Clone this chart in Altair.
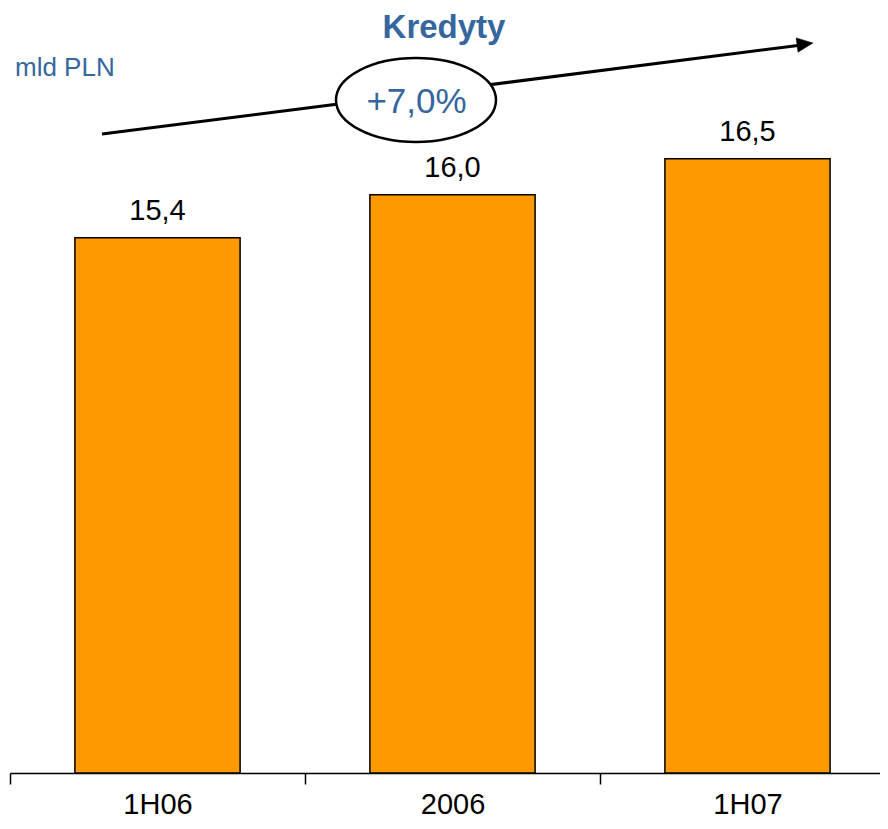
import altair as alt
import pandas as pd

# ---- data ----
categories = ["1H06", "2006", "1H07"]
values = [15.4, 16.0, 16.5]
value_labels = ["15,4", "16,0", "16,5"]

title_text = "Kredyty"
unit_text = "mld PLN"
growth_text = "+7,0%"

Y_MIN, Y_MAX = 7.95, 18.6
BLUE = "#35679E"
FONT = "Liberation Sans"
STEP = 295

df = pd.DataFrame({"cat": categories, "val": values, "lab": value_labels})
one = pd.DataFrame({"k": [0]})

x_enc = alt.X(
    "cat:N", sort=categories, title=None,
    scale=alt.Scale(range=[0, 885], paddingInner=0.44, paddingOuter=0.22),
    axis=alt.Axis(
        domainColor="#000000", domainWidth=1.5,
        tickColor="#000000", tickWidth=1.5, tickSize=11,
        tickOffset=-STEP / 2, labelOffset=STEP / 2,
        labelFont=FONT, labelFontSize=29, labelColor="#000000",
        labelPadding=29, labelBaseline="alphabetic", labelAngle=0,
        grid=False,
    ),
)
y_enc = alt.Y("val:Q", scale=alt.Scale(domain=[Y_MIN, Y_MAX], nice=False, zero=False), axis=None)

bars = alt.Chart(df).mark_bar(color="#FF9900", stroke="#000000", strokeWidth=1.5).encode(
    x=x_enc, y=y_enc, y2=alt.datum(Y_MIN)
)

labels = alt.Chart(df).mark_text(
    font=FONT, fontSize=29, color="#000000", baseline="alphabetic", dy=-18
).encode(x=alt.X("cat:N", sort=categories), y=alt.Y("val:Q"), text="lab:N")

arrow_line = alt.Chart(one).mark_rule(color="#000000", strokeWidth=3).encode(
    x=alt.value(92), y=alt.value(126), x2=alt.value(792), y2=alt.value(37)
)

arrow_head = alt.Chart(one).mark_point(
    shape="M -1,-0.9 L 1,0 L -1,0.9 Z", filled=True, fill="#000000", stroke="#000000",
    strokeWidth=0.5, opacity=1, size=256, angle=352.6
).encode(x=alt.value(795), y=alt.value(36))

ellipse = alt.Chart(one).mark_point(
    shape=("M -1,0 C -1,-0.29 -0.5523,-0.525 0,-0.525 C 0.5523,-0.525 1,-0.29 1,0 "
           "C 1,0.29 0.5523,0.525 0,0.525 C -0.5523,0.525 -1,0.29 -1,0 Z"),
    filled=True, fill="#FFFFFF", stroke="#000000", strokeWidth=2.5, opacity=1,
    fillOpacity=1, size=25600
).encode(x=alt.value(406), y=alt.value(92))

growth = alt.Chart(one).mark_text(
    text=growth_text, font=FONT, fontSize=35, color=BLUE, baseline="alphabetic", align="center"
).encode(x=alt.value(406.5), y=alt.value(105))

title = alt.Chart(one).mark_text(
    text=title_text, font=FONT, fontSize=33, fontWeight="bold", color=BLUE,
    baseline="alphabetic", align="center"
).encode(x=alt.value(434), y=alt.value(30))

unit = alt.Chart(one).mark_text(
    text=unit_text, font=FONT, fontSize=26, color=BLUE, baseline="alphabetic", align="left"
).encode(x=alt.value(5), y=alt.value(68))

chart = alt.layer(bars, labels, arrow_line, arrow_head, ellipse, growth, title, unit).properties(
    width=870, height=765, autosize="none",
    padding={"left": 2, "top": 0, "right": 0, "bottom": 48},
).configure_view(strokeWidth=0, stroke=None)

chart.save("out.html", embed_options={"renderer": "svg", "actions": False})
